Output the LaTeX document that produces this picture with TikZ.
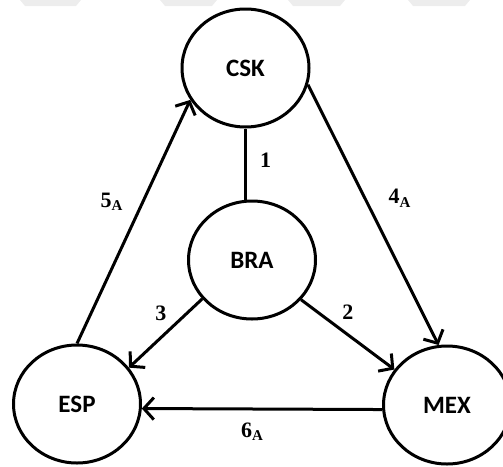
\documentclass[tikz,border=0pt]{standalone}
\usepackage{fontspec}
\newfontfamily\nodefont{Carlito}
\newfontfamily\labelfont{Liberation Serif}
\usetikzlibrary{shapes.geometric,arrows.meta}

\tikzset{
  country/.style={ellipse, draw, line width=3pt, minimum width=127pt,
    minimum height=118pt, inner sep=0pt,
    font=\nodefont\fontsize{25}{27}\selectfont\bfseries},
  link/.style={line width=3pt},
  arr/.style={link, -{Straight Barb[length=10pt,width=22pt,line width=3pt]}},
  lbl/.style={font=\labelfont\fontsize{22}{24}\selectfont\bfseries, inner sep=0pt},
  band/.style={fill=black!7, draw=none}
}
\newcommand{\subA}[1]{#1\textsubscript{\fontsize{15}{16}\selectfont A}}

\begin{document}
\begin{tikzpicture}[x=1pt,y=-1pt]
  \useasboundingbox (0,0) rectangle (503,466);

  % faint strip along the top edge
  \fill[band] (20,0) -- (81,0) -- (76,6) -- (25,6) -- cycle;
  \fill[band] (160,0) -- (217,0) -- (212,6) -- (165,6) -- cycle;
  \fill[band] (288,0) -- (345,0) -- (340,6) -- (293,6) -- cycle;
  \fill[band] (408,0) -- (470,0) -- (465,6) -- (413,6) -- cycle;

  % countries
  \node[country] (CSK) at (245.5,68)  {CSK};
  \node[country] (BRA) at (252,260)   {BRA};
  \node[country] (ESP) at (77,404)    {ESP};
  \node[country] (MEX) at (447,405)   {MEX};

  % links
  \draw[link] (CSK.south) -- (CSK.south |- BRA.north)
    node[lbl, pos=0.44, xshift=20pt] (l1) {1};
  \draw[arr] (BRA.-39) -- (MEX.146)
    node[lbl, pos=0.18, xshift=30pt] (l2) {2};
  \draw[arr] (BRA.218) -- (ESP.35)
    node[lbl, pos=0.21, xshift=-26pt] (l3) {3};
  \draw[arr] (CSK.-15) -- (MEX.98)
    node[lbl, pos=0.436, xshift=35pt] (l4) {\subA{4}};
  \draw[arr] (ESP.north) -- (CSK.210)
    node[lbl, pos=0.58, xshift=-31pt] (l5) {\subA{5}};
  \draw[arr] (MEX.184) -- (ESP.-4)
    node[lbl, pos=0.54, yshift=-23pt] (l6) {\subA{6}};
\end{tikzpicture}
\end{document}
